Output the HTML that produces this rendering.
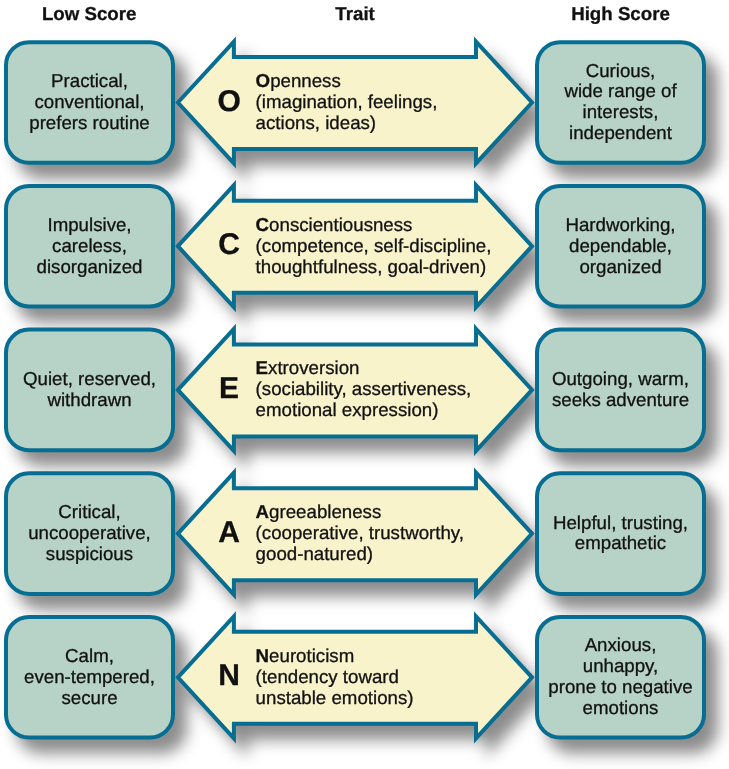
<!DOCTYPE html><html><head><meta charset="utf-8"><style>
html,body{margin:0;padding:0;background:#fff;}
svg{display:block;}
text{text-rendering:geometricPrecision;}
text{font-family:"Liberation Sans",sans-serif;fill:#111;stroke:#111;stroke-width:0.3px;}
</style></head><body>
<svg width="729" height="769" viewBox="0 0 729 769">
<defs><filter id="sh" x="-20%" y="-20%" width="150%" height="160%">
<feGaussianBlur in="SourceAlpha" stdDeviation="7.5"/>
<feOffset dx="12" dy="14" result="b"/>
<feFlood flood-color="#000" flood-opacity="0.45"/>
<feComposite in2="b" operator="in"/>
</filter></defs>
<rect width="729" height="769" fill="#fff"/>
<g font-weight="bold" font-size="18.7" text-anchor="middle" style="will-change:transform">
<text x="89.2" y="19.5" >Low Score</text>
<text x="355.1" y="19.5" >Trait</text>
<text x="620.5" y="19.5" >High Score</text>
</g>
<g filter="url(#sh)"><rect x="6" y="42.2" width="167" height="120.6" rx="23.0" fill="#000" stroke="#000" stroke-width="4"/>
<rect x="537" y="42.2" width="167" height="120.6" rx="23.0" fill="#000" stroke="#000" stroke-width="4"/>
<rect x="6" y="185.9" width="167" height="120.6" rx="23.0" fill="#000" stroke="#000" stroke-width="4"/>
<rect x="537" y="185.9" width="167" height="120.6" rx="23.0" fill="#000" stroke="#000" stroke-width="4"/>
<rect x="6" y="329.6" width="167" height="120.6" rx="23.0" fill="#000" stroke="#000" stroke-width="4"/>
<rect x="537" y="329.6" width="167" height="120.6" rx="23.0" fill="#000" stroke="#000" stroke-width="4"/>
<rect x="6" y="473.3" width="167" height="120.6" rx="23.0" fill="#000" stroke="#000" stroke-width="4"/>
<rect x="537" y="473.3" width="167" height="120.6" rx="23.0" fill="#000" stroke="#000" stroke-width="4"/>
<rect x="6" y="617" width="167" height="120.6" rx="23.0" fill="#000" stroke="#000" stroke-width="4"/>
<rect x="537" y="617" width="167" height="120.6" rx="23.0" fill="#000" stroke="#000" stroke-width="4"/>
<polygon points="177.9,102.5 233.9,41.55 233.9,57.05 476,57.05 476,41.55 532,102.5 476,163.45 476,149.05 233.9,149.05 233.9,163.45" fill="#000" stroke="#000" stroke-width="4"/>
<polygon points="177.9,246.2 233.9,185.25 233.9,200.75 476,200.75 476,185.25 532,246.2 476,307.15 476,292.75 233.9,292.75 233.9,307.15" fill="#000" stroke="#000" stroke-width="4"/>
<polygon points="177.9,389.9 233.9,328.95 233.9,344.45 476,344.45 476,328.95 532,389.9 476,450.85 476,436.45 233.9,436.45 233.9,450.85" fill="#000" stroke="#000" stroke-width="4"/>
<polygon points="177.9,533.6 233.9,472.65 233.9,488.15 476,488.15 476,472.65 532,533.6 476,594.55 476,580.15 233.9,580.15 233.9,594.55" fill="#000" stroke="#000" stroke-width="4"/>
<polygon points="177.9,677.3 233.9,616.35 233.9,631.85 476,631.85 476,616.35 532,677.3 476,738.25 476,723.85 233.9,723.85 233.9,738.25" fill="#000" stroke="#000" stroke-width="4"/></g>
<rect x="6" y="42.2" width="167" height="120.6" rx="23.0" fill="#b7d3c7" stroke="#076e91" stroke-width="4"/>
<rect x="537" y="42.2" width="167" height="120.6" rx="23.0" fill="#b7d3c7" stroke="#076e91" stroke-width="4"/>
<polygon points="177.9,102.5 233.9,41.55 233.9,57.05 476,57.05 476,41.55 532,102.5 476,163.45 476,149.05 233.9,149.05 233.9,163.45" fill="#f9f3cc" stroke="#076e91" stroke-width="4" stroke-linejoin="miter"/>
<rect x="6" y="185.9" width="167" height="120.6" rx="23.0" fill="#b7d3c7" stroke="#076e91" stroke-width="4"/>
<rect x="537" y="185.9" width="167" height="120.6" rx="23.0" fill="#b7d3c7" stroke="#076e91" stroke-width="4"/>
<polygon points="177.9,246.2 233.9,185.25 233.9,200.75 476,200.75 476,185.25 532,246.2 476,307.15 476,292.75 233.9,292.75 233.9,307.15" fill="#f9f3cc" stroke="#076e91" stroke-width="4" stroke-linejoin="miter"/>
<rect x="6" y="329.6" width="167" height="120.6" rx="23.0" fill="#b7d3c7" stroke="#076e91" stroke-width="4"/>
<rect x="537" y="329.6" width="167" height="120.6" rx="23.0" fill="#b7d3c7" stroke="#076e91" stroke-width="4"/>
<polygon points="177.9,389.9 233.9,328.95 233.9,344.45 476,344.45 476,328.95 532,389.9 476,450.85 476,436.45 233.9,436.45 233.9,450.85" fill="#f9f3cc" stroke="#076e91" stroke-width="4" stroke-linejoin="miter"/>
<rect x="6" y="473.3" width="167" height="120.6" rx="23.0" fill="#b7d3c7" stroke="#076e91" stroke-width="4"/>
<rect x="537" y="473.3" width="167" height="120.6" rx="23.0" fill="#b7d3c7" stroke="#076e91" stroke-width="4"/>
<polygon points="177.9,533.6 233.9,472.65 233.9,488.15 476,488.15 476,472.65 532,533.6 476,594.55 476,580.15 233.9,580.15 233.9,594.55" fill="#f9f3cc" stroke="#076e91" stroke-width="4" stroke-linejoin="miter"/>
<rect x="6" y="617" width="167" height="120.6" rx="23.0" fill="#b7d3c7" stroke="#076e91" stroke-width="4"/>
<rect x="537" y="617" width="167" height="120.6" rx="23.0" fill="#b7d3c7" stroke="#076e91" stroke-width="4"/>
<polygon points="177.9,677.3 233.9,616.35 233.9,631.85 476,631.85 476,616.35 532,677.3 476,738.25 476,723.85 233.9,723.85 233.9,738.25" fill="#f9f3cc" stroke="#076e91" stroke-width="4" stroke-linejoin="miter"/>
<g font-size="18.7" style="will-change:transform"><text x="89.5" y="87"  text-anchor="middle">Practical,</text>
<text x="89.5" y="107.9"  text-anchor="middle">conventional,</text>
<text x="89.5" y="128.8"  text-anchor="middle">prefers routine</text>
<text x="620.5" y="76.55"  text-anchor="middle">Curious,</text>
<text x="620.5" y="97.45"  text-anchor="middle">wide range of</text>
<text x="620.5" y="118.35"  text-anchor="middle">interests,</text>
<text x="620.5" y="139.25"  text-anchor="middle">independent</text>
<text x="255.6" y="87" ><tspan font-weight="bold">O</tspan>penness</text>
<text x="255.6" y="107.9" >(imagination, feelings,</text>
<text x="255.6" y="128.8" >actions, ideas)</text>
<text x="229.1" y="110.6" text-anchor="middle" font-weight="bold" font-size="30">O</text>
<text x="89.5" y="230.7"  text-anchor="middle">Impulsive,</text>
<text x="89.5" y="251.6"  text-anchor="middle">careless,</text>
<text x="89.5" y="272.5"  text-anchor="middle">disorganized</text>
<text x="620.5" y="230.7"  text-anchor="middle">Hardworking,</text>
<text x="620.5" y="251.6"  text-anchor="middle">dependable,</text>
<text x="620.5" y="272.5"  text-anchor="middle">organized</text>
<text x="255.6" y="230.7" ><tspan font-weight="bold">C</tspan>onscientiousness</text>
<text x="255.6" y="251.6" >(competence, self-discipline,</text>
<text x="255.6" y="272.5" >thoughtfulness, goal-driven)</text>
<text x="229.1" y="254.3" text-anchor="middle" font-weight="bold" font-size="30">C</text>
<text x="89.5" y="384.85"  text-anchor="middle">Quiet, reserved,</text>
<text x="89.5" y="405.75"  text-anchor="middle">withdrawn</text>
<text x="620.5" y="384.85"  text-anchor="middle">Outgoing, warm,</text>
<text x="620.5" y="405.75"  text-anchor="middle">seeks adventure</text>
<text x="255.6" y="374.4" ><tspan font-weight="bold">E</tspan>xtroversion</text>
<text x="255.6" y="395.3" >(sociability, assertiveness,</text>
<text x="255.6" y="416.2" >emotional expression)</text>
<text x="229.1" y="398" text-anchor="middle" font-weight="bold" font-size="30">E</text>
<text x="89.5" y="518.1"  text-anchor="middle">Critical,</text>
<text x="89.5" y="539"  text-anchor="middle">uncooperative,</text>
<text x="89.5" y="559.9"  text-anchor="middle">suspicious</text>
<text x="620.5" y="528.55"  text-anchor="middle">Helpful, trusting,</text>
<text x="620.5" y="549.45"  text-anchor="middle">empathetic</text>
<text x="255.6" y="518.1" ><tspan font-weight="bold">A</tspan>greeableness</text>
<text x="255.6" y="539" >(cooperative, trustworthy,</text>
<text x="255.6" y="559.9" >good-natured)</text>
<text x="229.1" y="541.7" text-anchor="middle" font-weight="bold" font-size="30">A</text>
<text x="89.5" y="661.8"  text-anchor="middle">Calm,</text>
<text x="89.5" y="682.7"  text-anchor="middle">even-tempered,</text>
<text x="89.5" y="703.6"  text-anchor="middle">secure</text>
<text x="620.5" y="651.35"  text-anchor="middle">Anxious,</text>
<text x="620.5" y="672.25"  text-anchor="middle">unhappy,</text>
<text x="620.5" y="693.15"  text-anchor="middle">prone to negative</text>
<text x="620.5" y="714.05"  text-anchor="middle">emotions</text>
<text x="255.6" y="661.8" ><tspan font-weight="bold">N</tspan>euroticism</text>
<text x="255.6" y="682.7" >(tendency toward</text>
<text x="255.6" y="703.6" >unstable emotions)</text>
<text x="229.1" y="685.4" text-anchor="middle" font-weight="bold" font-size="30">N</text></g>
</svg></body></html>
